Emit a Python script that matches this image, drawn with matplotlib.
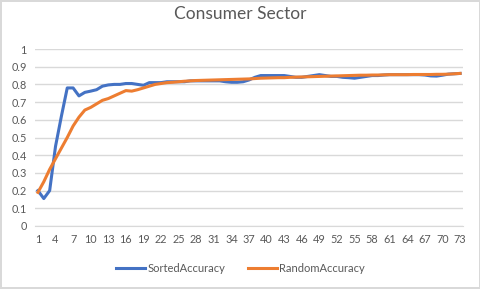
import matplotlib
matplotlib.use("Agg")
import matplotlib.pyplot as plt
import numpy as np

plt.rcParams['font.family'] = ['Lato', 'DejaVu Sans']

# data
x_labels = list(range(1, 74))
sorted_acc = [
    0.20, 0.155, 0.20, 0.45, 0.62, 0.78, 0.78, 0.735, 0.755, 0.762,
    0.77, 0.79, 0.797, 0.80, 0.80, 0.805, 0.805, 0.80, 0.795, 0.81,
    0.81, 0.81, 0.815, 0.815, 0.815, 0.815, 0.82, 0.82, 0.82, 0.82,
    0.82, 0.82, 0.815, 0.812, 0.812, 0.815, 0.825, 0.84, 0.85, 0.85,
    0.85, 0.85, 0.85, 0.845, 0.84, 0.84, 0.845, 0.85, 0.855, 0.85,
    0.845, 0.845, 0.84, 0.838, 0.835, 0.84, 0.845, 0.85, 0.85, 0.853,
    0.855, 0.855, 0.855, 0.855, 0.855, 0.855, 0.853, 0.848, 0.847, 0.852,
    0.858, 0.86, 0.862,
]
random_acc = [
    0.19, 0.25, 0.32, 0.38, 0.44, 0.50, 0.565, 0.615, 0.655, 0.67,
    0.69, 0.71, 0.72, 0.735, 0.75, 0.765, 0.762, 0.77, 0.78, 0.79,
    0.80, 0.805, 0.81, 0.812, 0.815, 0.818, 0.82, 0.822, 0.823, 0.824,
    0.825, 0.826, 0.827, 0.828, 0.829, 0.83, 0.831, 0.833, 0.835, 0.836,
    0.837, 0.838, 0.838, 0.84, 0.841, 0.842, 0.843, 0.844, 0.845, 0.846,
    0.847, 0.848, 0.849, 0.85, 0.851, 0.852, 0.852, 0.853, 0.853, 0.854,
    0.855, 0.855, 0.855, 0.855, 0.856, 0.856, 0.856, 0.856, 0.857, 0.857,
    0.858, 0.86, 0.862,
]

blue = '#4472C4'
orange = '#ED7D31'
grid = '#D9D9D9'
text_col = '#595959'

fig = plt.figure(figsize=(4.81, 2.89), dpi=100)
fig.patch.set_edgecolor(grid)
fig.patch.set_linewidth(1.5)

ax = fig.add_axes([35 / 481, (289 - 226) / 289, 428 / 481, 177 / 289])
ax.plot(x_labels, sorted_acc, color=blue, linewidth=2.2, label='SortedAccuracy',
        solid_joinstyle='round')
ax.plot(x_labels, random_acc, color=orange, linewidth=2.2, label='RandomAccuracy',
        solid_joinstyle='round')

ax.set_xlim(0.5, 73.5)
ax.set_ylim(0, 1)
ax.set_yticks(np.arange(0, 1.01, 0.1))
ax.set_yticklabels(['0'] + [f'{v:.1f}' for v in np.arange(0.1, 0.95, 0.1)] + ['1'])
ax.set_xticks(x_labels[::3])
ax.grid(axis='y', color=grid, linewidth=1)
ax.set_axisbelow(True)
for s in ['top', 'right', 'left']:
    ax.spines[s].set_visible(False)
ax.spines['bottom'].set_color(grid)
ax.tick_params(length=0, labelsize=7.8, labelcolor=text_col, pad=6)

fig.text(0.5, 1 - 14 / 289, 'Consumer Sector', ha='center', va='center',
         fontsize=12.5, color=text_col)

fig.legend(loc='center', bbox_to_anchor=(0.5, 1 - 268 / 289), ncol=2,
           frameon=False, fontsize=8, labelcolor=text_col, handlelength=2.6,
           handletextpad=0.2, columnspacing=2.0)

fig.savefig('out.png', dpi=100)
